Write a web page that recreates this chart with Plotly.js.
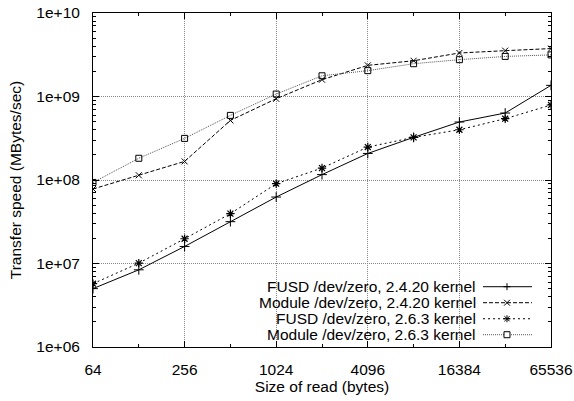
<!DOCTYPE html>
<html>
<head>
<meta charset="utf-8">
<script src="https://cdn.plot.ly/plotly-3.0.1.min.js"></script>
<style>html,body{margin:0;padding:0;background:#fff;}#chart{width:574px;height:401px;}</style>
</head>
<body>
<div id="chart"></div>
<script>
const readSizes = [64, 128, 256, 512, 1024, 2048, 4096, 8192, 16384, 32768, 65536];
const fusd2420 = [5.0e6, 8.4e6, 1.60e7, 3.17e7, 6.25e7, 1.16e8, 2.08e8, 3.24e8, 4.95e8, 6.34e8, 1.36e9];
const module2420 = [7.8e7, 1.14e8, 1.67e8, 5.17e8, 9.4e8, 1.59e9, 2.36e9, 2.68e9, 3.32e9, 3.54e9, 3.75e9];
const fusd263 = [5.73e6, 1.01e7, 1.98e7, 3.95e7, 9.03e7, 1.39e8, 2.48e8, 3.24e8, 4.0e8, 5.42e8, 7.91e8];
const module263 = [9.35e7, 1.82e8, 3.15e8, 5.94e8, 1.07e9, 1.77e9, 2.04e9, 2.47e9, 2.76e9, 3.02e9, 3.15e9];

const seriesNames = ["FUSD /dev/zero, 2.4.20 kernel", "Module /dev/zero, 2.4.20 kernel", "FUSD /dev/zero, 2.6.3 kernel", "Module /dev/zero, 2.6.3 kernel"];
const xMajorTicks = [64, 256, 1024, 4096, 16384, 65536];
const xMinorTicks = [128, 512, 2048, 8192, 32768];
const yTickVals = [1e6, 1e7, 1e8, 1e9, 1e10];
const yTickText = ["1e+06", "1e+07", "1e+08", "1e+09", "1e+10"];

const FONT = "Liberation Sans, Arial, Helvetica, sans-serif";
const FS = 15.5;

const styles = [
  {line: {color: "#000", width: 1, dash: "solid"}, sym: "cross-thin-open", size: 7, mw: 1},
  {line: {color: "#000", width: 1, dash: "4px,2px"}, sym: "x-thin-open", size: 6, mw: 1},
  {line: {color: "#000", width: 1, dash: "2px,3px"}, sym: "asterisk-open", size: 7, mw: 1.2},
  {line: {color: "#555", width: 1, dash: "1px,1px"}, sym: "square-open", size: 6, mw: 1}
];
const series = [fusd2420, module2420, fusd263, module263];

const traces = series.map((ys, i) => ({
  x: readSizes, y: ys, name: seriesNames[i], mode: "lines+markers", showlegend: false,
  line: styles[i].line,
  marker: {symbol: styles[i].sym, size: styles[i].size, color: "#000", line: {color: "#000", width: styles[i].mw}}
}));

// Custom gnuplot-style key: right-aligned text, sample on the right
const keyTextX = 0.8406, keySampleX = 0.9039;
const keyRowsY = [0.1805, 0.1326, 0.0846, 0.0368];
const markerPaths = [
  "M-3.5,0 H3.5 M0,-3.5 V3.5",
  "M-3,-3 L3,3 M-3,3 L3,-3",
  "M-3.5,0 H3.5 M0,-3.5 V3.5 M-2.6,-2.6 L2.6,2.6 M-2.6,2.6 L2.6,-2.6",
  null
];
const shapes = [{type: "rect", xref: "paper", yref: "paper", x0: 0.19, x1: 0.995, y0: 0.005, y1: 0.205,
                 fillcolor: "#fff", line: {width: 0}, layer: "between"}];
const annotations = [];
keyRowsY.forEach((yy, i) => {
  annotations.push({xref: "paper", yref: "paper", x: keyTextX, y: yy, xanchor: "right", yanchor: "middle",
                    text: seriesNames[i], showarrow: false, font: {family: FONT, size: FS, color: "#000"}});
  shapes.push({type: "line", xref: "paper", yref: "paper", xsizemode: "pixel", ysizemode: "pixel",
               xanchor: keySampleX, yanchor: yy, x0: -24, x1: 25, y0: 0, y1: 0, line: styles[i].line, layer: "above"});
  if (markerPaths[i]) {
    shapes.push({type: "path", xref: "paper", yref: "paper", xsizemode: "pixel", ysizemode: "pixel",
                 xanchor: keySampleX, yanchor: yy, path: markerPaths[i], line: {color: "#000", width: 1}, layer: "above"});
  } else {
    shapes.push({type: "rect", xref: "paper", yref: "paper", xsizemode: "pixel", ysizemode: "pixel",
                 xanchor: keySampleX, yanchor: yy, x0: -3, x1: 3, y0: -3, y1: 3,
                 fillcolor: "#fff", line: {color: "#000", width: 1}, layer: "above"});
  }
});

const layout = {
  width: 574, height: 401,
  margin: {l: 93, r: 23, t: 13, b: 54},
  paper_bgcolor: "#fff", plot_bgcolor: "#fff",
  font: {family: FONT, size: FS, color: "#000"},
  showlegend: false,
  xaxis: {
    type: "log", range: [Math.log10(64), Math.log10(65536)],
    tickmode: "array", tickvals: xMajorTicks, ticktext: xMajorTicks.map(String),
    ticks: "inside", ticklen: 6, tickcolor: "#000", tickwidth: 1,
    showline: true, linecolor: "#000", linewidth: 1, mirror: "allticks",
    showgrid: true, gridcolor: "#888", griddash: "1px,1px", gridwidth: 1,
    zeroline: false, ticklabelstandoff: 8,
    minor: {tickmode: "array", tickvals: xMinorTicks, ticks: "inside", ticklen: 3, tickcolor: "#000", showgrid: false},
    title: {text: "Size of read (bytes)", font: {family: FONT, size: FS}, standoff: 3}
  },
  yaxis: {
    type: "log", range: [6, 10],
    tickmode: "array", tickvals: yTickVals, ticktext: yTickText,
    ticks: "inside", ticklen: 6, tickcolor: "#000", tickwidth: 1,
    showline: true, linecolor: "#000", linewidth: 1, mirror: "allticks",
    showgrid: true, gridcolor: "#888", griddash: "1px,1px", gridwidth: 1,
    zeroline: false, ticklabelstandoff: 9,
    minor: {dtick: "D1", ticks: "inside", ticklen: 3, tickcolor: "#000", showgrid: false},
    title: {text: "Transfer speed (MBytes/sec)", font: {family: FONT, size: FS}, standoff: 10}
  },
  shapes: shapes,
  annotations: annotations
};

Plotly.newPlot("chart", traces, layout, {displayModeBar: false, staticPlot: true});
</script>
</body>
</html>
